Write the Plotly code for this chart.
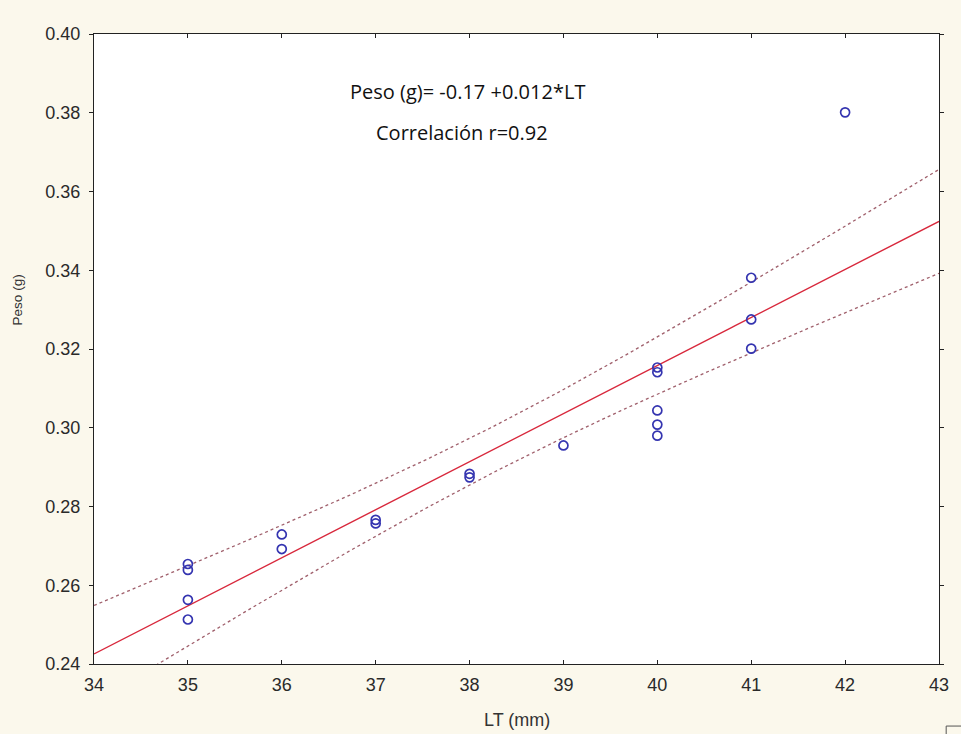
import numpy as np
import plotly.graph_objects as go

# Length (mm) and weight (g) of each specimen
lt = [35, 35, 35, 35, 36, 36, 37, 37, 38, 38, 39, 40, 40, 40, 40, 40, 41, 41, 41, 42]
peso = [0.2654, 0.2639, 0.2563, 0.2513, 0.2729, 0.2692, 0.2766, 0.2757, 0.2883, 0.2874,
        0.2955, 0.3153, 0.3141, 0.3044, 0.3008, 0.2980, 0.3381, 0.3275, 0.3201, 0.3801]

x_ticks = list(range(34, 44))
y_ticks = [0.24, 0.26, 0.28, 0.30, 0.32, 0.34, 0.36, 0.38, 0.40]

eq_text = "Peso (g)= -0.17 +0.012*LT"
r_text = "Correlación r=0.92"

# Least-squares fit with 95% confidence band for the mean
x = np.array(lt, dtype=float)
y = np.array(peso, dtype=float)
n = len(x)
xbar = x.mean()
sxx = ((x - xbar) ** 2).sum()
slope = ((x - xbar) * (y - y.mean())).sum() / sxx
intercept = y.mean() - slope * xbar
resid = y - (intercept + slope * x)
s = np.sqrt((resid ** 2).sum() / (n - 2))
t975 = 2.101  # Student t, 18 degrees of freedom

xf = np.linspace(34, 43, 200)
yf = intercept + slope * xf
half = t975 * s * np.sqrt(1.0 / n + (xf - xbar) ** 2 / sxx)

band_style = dict(color="#a0606c", width=1.3, dash="dot")

fig = go.Figure()
fig.add_trace(go.Scatter(x=xf, y=yf + half, mode="lines", line=band_style, hoverinfo="skip"))
fig.add_trace(go.Scatter(x=xf, y=yf - half, mode="lines", line=band_style, hoverinfo="skip"))
fig.add_trace(go.Scatter(x=xf, y=yf, mode="lines", line=dict(color="#d8283c", width=1.4)))
fig.add_trace(go.Scatter(
    x=lt, y=peso, mode="markers",
    marker=dict(symbol="circle-open", size=9, color="#3434b0", line=dict(width=1.7, color="#3434b0")),
))

axis_font = dict(family="Liberation Sans, Arial, sans-serif", size=18, color="#2a2a2a")
text_font = dict(family="Open Sans, Calibri, sans-serif", size=20, color="#111111")

fig.add_annotation(x=37.98, y=0.3853, xref="x", yref="y", text=eq_text, showarrow=False,
                   xanchor="center", yanchor="middle", font=text_font)
fig.add_annotation(x=37.92, y=0.3751, xref="x", yref="y", text=r_text, showarrow=False,
                   xanchor="center", yanchor="middle", font=text_font)

# Axis titles
fig.add_annotation(x=0.5, y=-0.089, xref="paper", yref="paper", text="LT (mm)", showarrow=False,
                   xanchor="center", yanchor="middle",
                   font=dict(family="Liberation Sans, Arial, sans-serif", size=18, color="#333333"))
fig.add_annotation(x=-0.0905, y=0.578, xref="paper", yref="paper", text="Peso (g)", showarrow=False,
                   textangle=-90, xanchor="center", yanchor="middle",
                   font=dict(family="Liberation Sans, Arial, sans-serif", size=13.5, color="#333333"))

# small frame corner in the lower right of the page
fig.add_shape(type="path", xref="paper", yref="paper",
              path="M 1.0085 -0.12 L 1.0085 -0.0985 L 1.03 -0.0985",
              line=dict(color="#555555", width=1))

fig.update_layout(
    width=961, height=734,
    margin=dict(l=94, r=16, t=34, b=70),
    paper_bgcolor="#fbf8ec",
    plot_bgcolor="#ffffff",
    showlegend=False,
)
fig.update_xaxes(
    range=[34, 43], tickvals=x_ticks, ticktext=[str(v) for v in x_ticks],
    showgrid=False, zeroline=False, showline=True, linecolor="#222222", linewidth=1.2,
    mirror="ticks", ticks="inside", ticklen=4, tickcolor="#222222",
    tickfont=axis_font, ticklabelstandoff=4,
)
fig.update_yaxes(
    range=[0.24, 0.40], tickvals=y_ticks, ticktext=[f"{v:.2f}" for v in y_ticks],
    showgrid=False, zeroline=False, showline=True, linecolor="#222222", linewidth=1.2,
    mirror="ticks", ticks="outside", ticklen=4, tickcolor="#222222",
    tickfont=axis_font, ticklabelstandoff=5,
)

fig.write_html("out.html")
